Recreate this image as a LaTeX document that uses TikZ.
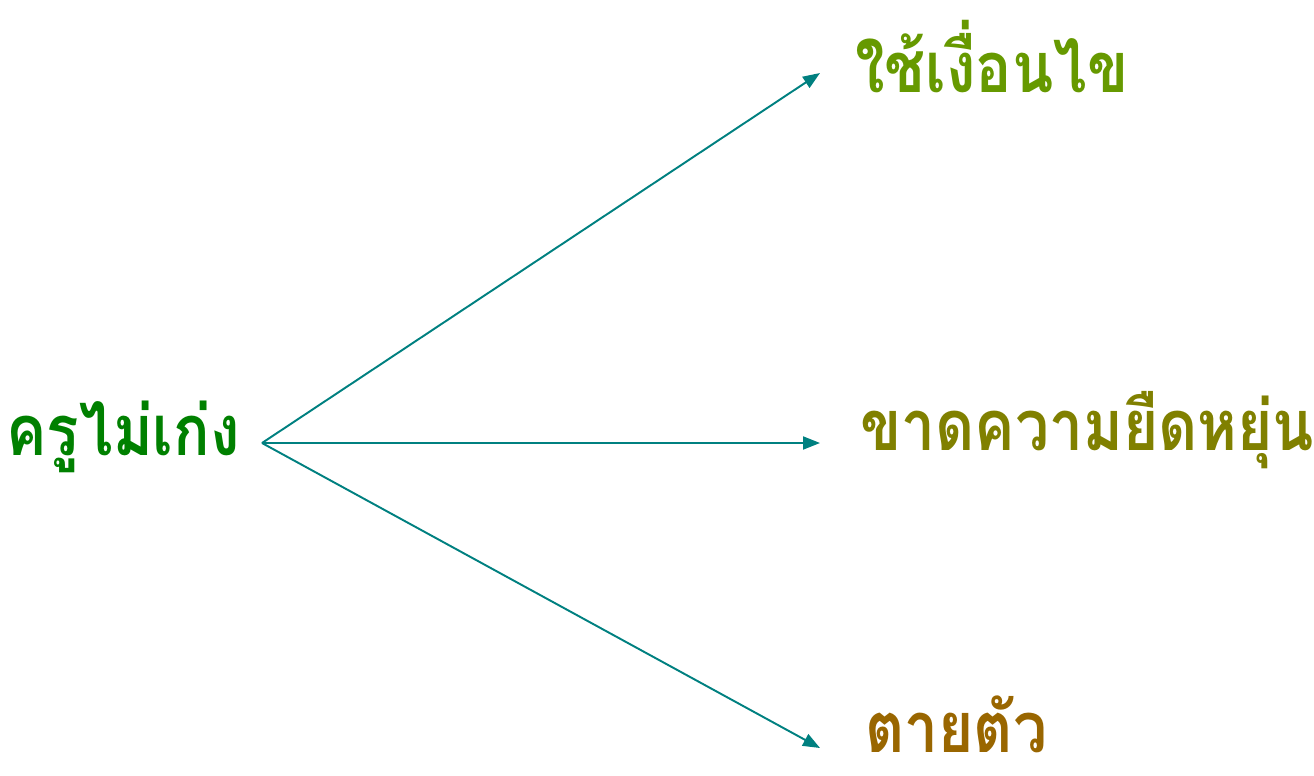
\documentclass[tikz,border=0pt]{standalone}
\usepackage{fontspec}
\newfontfamily\thaifont[Script=Thai,FakeStretch=0.86]{Loma}
\usepackage{tikz}
\usetikzlibrary{arrows.meta,positioning}
\definecolor{teal2}{HTML}{008080}
\definecolor{cgreen}{HTML}{008000}
\definecolor{cleaf}{HTML}{669900}
\definecolor{colive}{HTML}{808000}
\definecolor{cbrown}{HTML}{996600}
\tikzset{
  >={Triangle[length=3.4mm,width=2.6mm]},
  word/.style={font=\thaifont\bfseries\fontsize{40}{46}\selectfont,inner sep=0pt},
  arr/.style={->,draw=teal2,line width=1.1pt},
}
\begin{document}
\begin{tikzpicture}[x=0.02cm,y=-0.02cm,node distance=0.7cm]
\useasboundingbox (0,0) rectangle (1314,775);
\coordinate (src) at (262,443);
\coordinate (tcond) at (820,73);
\coordinate (tflex) at (820,443);
\coordinate (tfix) at (820,748);
\node[word,text=cgreen,left=0.44cm of src,anchor=base east,yshift=-0.24cm] (kru) {ครูไม่เก่ง};
\node[word,text=cleaf,right=of tcond,anchor=base west,yshift=-0.38cm] (cond) {ใช้เงื่อนไข};
\node[word,text=colive,right=0.8cm of tflex,anchor=base west,yshift=-0.14cm] (flex) {ขาดความยืดหยุ่น};
\node[word,text=cbrown,text depth=0pt,right=0.9cm of tfix,anchor=base west,yshift=-0.08cm] (fix) {ตายตัว};
\foreach \v in {tcond,tflex,tfix} \draw[arr] (src)--(\v);
\end{tikzpicture}
\end{document}
